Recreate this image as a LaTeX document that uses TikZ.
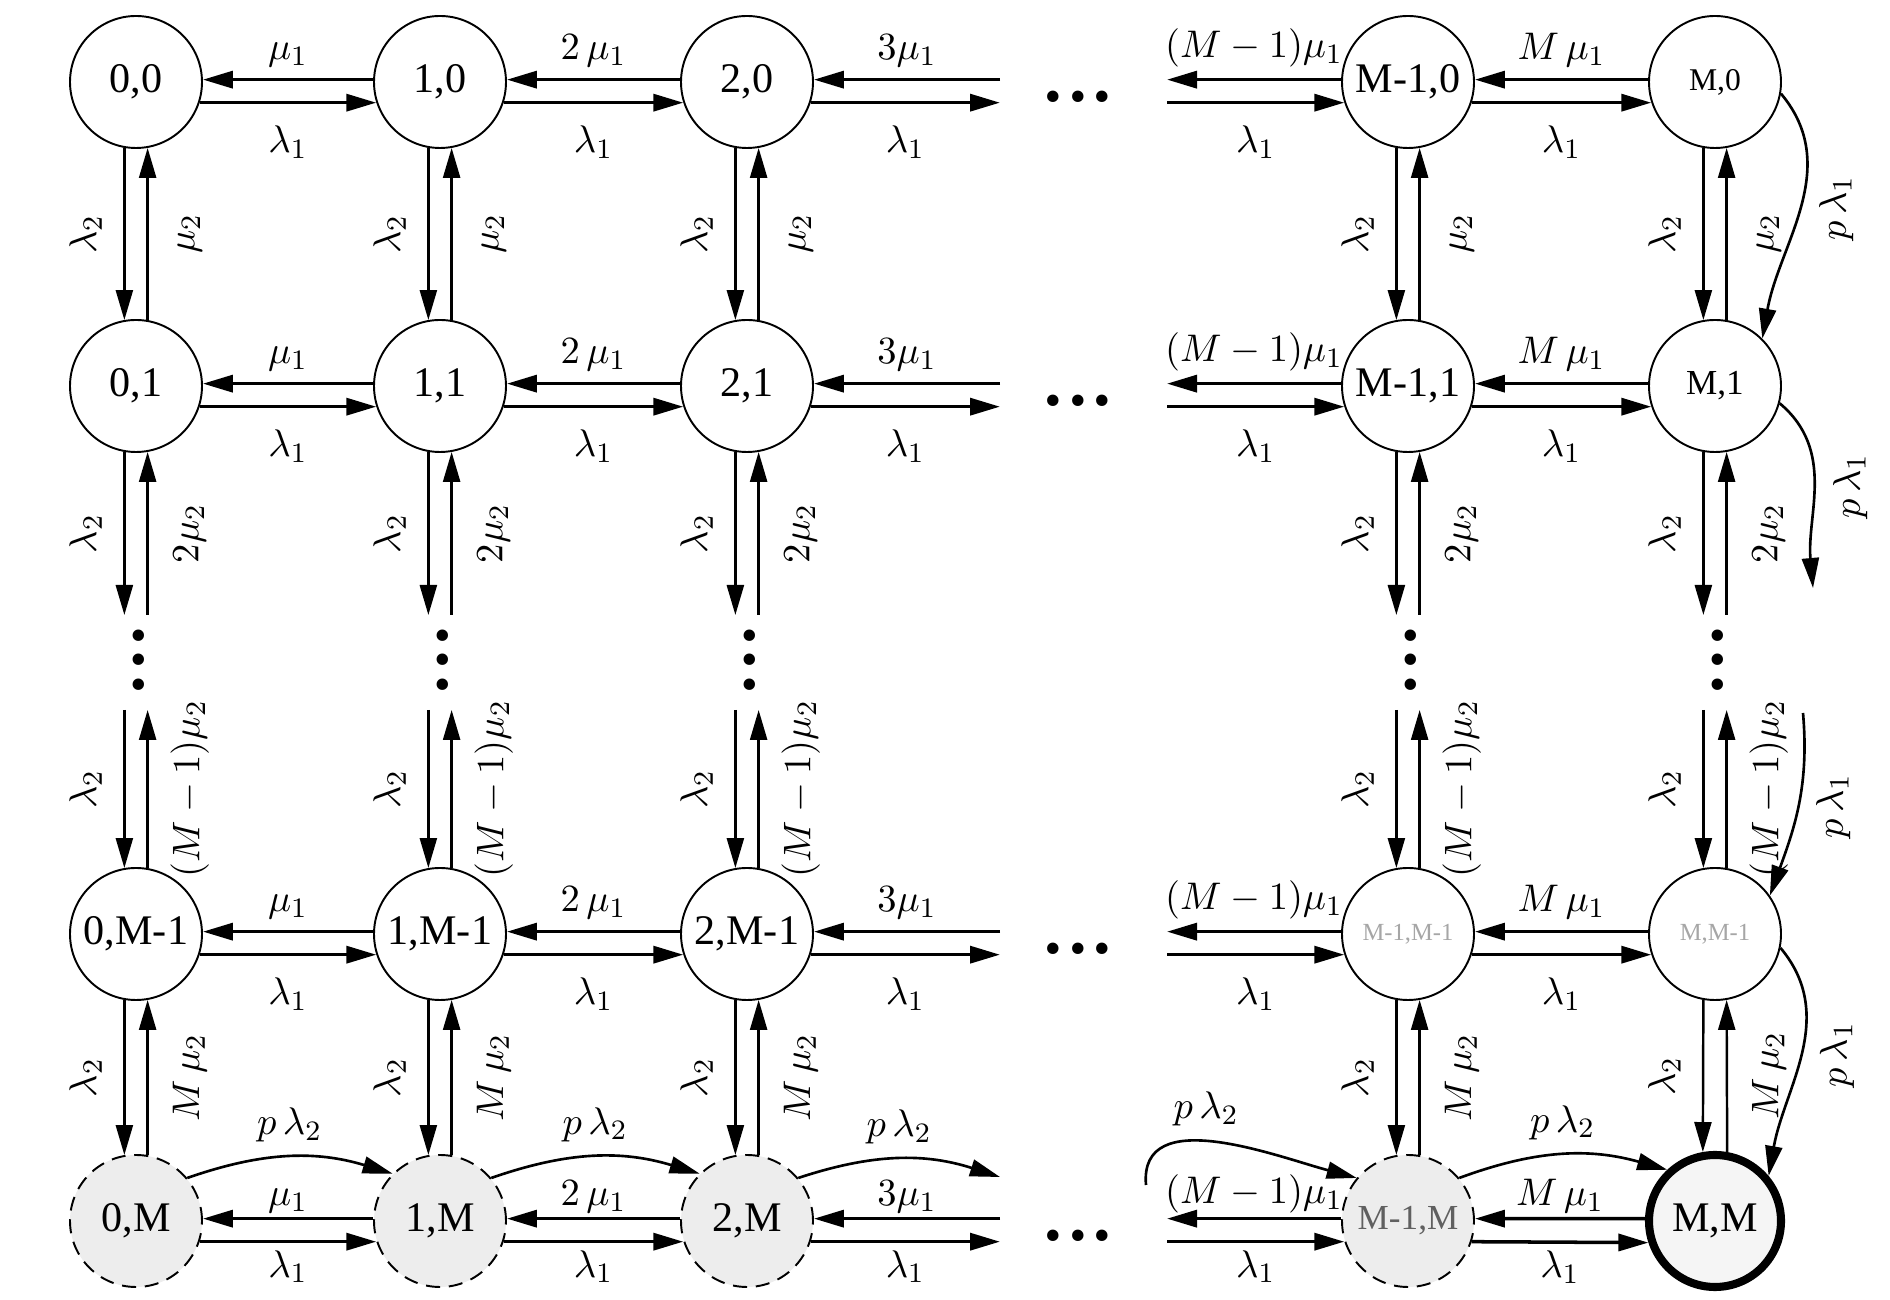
\documentclass[tikz,border=0pt]{standalone}
\usepackage{amsmath}
\usepackage{fontspec}
\setmainfont{Liberation Serif}
\usepackage{tikz}
\usetikzlibrary{positioning,arrows.meta,calc}

\tikzset{
  stnode/.style={circle, draw, line width=0.55pt, minimum size=13.2mm, inner sep=0pt, font=\fontsize{12}{14}\selectfont},
  lowstate/.style={stnode, fill=gray!14, dash pattern=on 4pt off 2.5pt},
  endstate/.style={stnode, fill=gray!8, line width=2.3pt},
  harr/.style={->, line width=1pt},
  varr/.style={->, line width=0.7pt},
  carr/.style={->, line width=0.75pt},
  lbl/.style={font=\fontsize{11}{13}\selectfont, inner sep=1pt},
  lamv/.style={lbl, xshift=-11pt, rotate=90},
  muv/.style={lbl, xshift=12pt, rotate=90},
  pv/.style={lbl, xshift=10pt, rotate=90},
  dotsbox/.style={inner sep=0pt, font=\fontsize{20}{20}\selectfont\bfseries},
}

\begin{document}
\begin{tikzpicture}[>={Triangle[length=3mm, width=1.7mm]}]
  \useasboundingbox (0,0) rectangle (18.9,-13);
  \node[stnode] (s00) at (1.36,-0.82)  {0,0};
  \node[stnode] (s10) at (4.40,-0.82)  {1,0};
  \node[stnode] (s20) at (7.47,-0.82)  {2,0};
  \node[stnode] (s30) at (14.08,-0.82) {M-1,0};
  \node[stnode, font=\fontsize{9}{11}\selectfont] (s40) at (17.15,-0.82) {M,0};
  \node[stnode] (s01) at (1.36,-3.86)  {0,1};
  \node[stnode] (s11) at (4.40,-3.86)  {1,1};
  \node[stnode] (s21) at (7.47,-3.86)  {2,1};
  \node[stnode] (s31) at (14.08,-3.86) {M-1,1};
  \node[stnode, font=\fontsize{10}{12}\selectfont] (s41) at (17.15,-3.86) {M,1};
  \node[stnode] (s02) at (1.36,-9.34)  {0,M-1};
  \node[stnode] (s12) at (4.40,-9.34)  {1,M-1};
  \node[stnode] (s22) at (7.47,-9.34)  {2,M-1};
  \node[stnode, text=gray!70, font=\fontsize{7}{9}\selectfont] (s32) at (14.08,-9.34) {M-1,M-1};
  \node[stnode, text=gray!70, font=\fontsize{7}{9}\selectfont] (s42) at (17.15,-9.34) {M,M-1};
  \node[lowstate] (s03) at (1.36,-12.21)  {0,M};
  \node[lowstate] (s13) at (4.40,-12.21)  {1,M};
  \node[lowstate] (s23) at (7.47,-12.21)  {2,M};
  \node[lowstate, text=gray!75!black, font=\fontsize{10}{12}\selectfont] (s33) at (14.08,-12.21) {M-1,M};
  \node[endstate] (s43) at (17.15,-12.21) {M,M};

  \coordinate (hl) at (10.00,0);
  \coordinate (hr) at (11.67,0);
  \coordinate (vt) at (0,-6.15);
  \coordinate (vb) at (0,-7.10);

  \foreach \r/\y/\ua/\lb in {0/-0.82/2pt/5pt, 1/-3.86/2pt/5pt, 2/-9.34/2pt/5pt, 3/-12.21/0pt/1pt}{
    \draw[harr] (s1\r.178) -- node[lbl, above=\ua]{$\mu_1$} (s0\r.2);
    \draw[harr] (s0\r.-18) -- node[lbl, below=\lb]{$\lambda_1$} (s1\r.198);
    \draw[harr] (s2\r.178) -- node[lbl, above=\ua]{$2\,\mu_1$} (s1\r.2);
    \draw[harr] (s1\r.-18) -- node[lbl, below=\lb]{$\lambda_1$} (s2\r.198);
    \draw[harr] (s2\r.2 -| hl) -- node[lbl, above=\ua]{$3\mu_1$} (s2\r.2);
    \draw[harr] (s2\r.-18) -- node[lbl, below=\lb]{$\lambda_1$} (s2\r.-18 -| hl);
    \node[dotsbox] (hd\r) at (10.78,\y-0.15) {.\kern2pt.\kern2pt.};
    \draw[harr] (s3\r.178) -- node[lbl, above=\ua]{$(M-1)\mu_1$} (s3\r.178 -| hr);
    \draw[harr] (s3\r.198 -| hr) -- node[lbl, below=\lb]{$\lambda_1$} (s3\r.198);
    \draw[harr] (s4\r.178) -- node[lbl, above=\ua]{$M\,\mu_1$} (s3\r.2);
    \draw[harr] (s3\r.-18) -- node[lbl, below=\lb]{$\lambda_1$} (s4\r.198);
  }

  \foreach \c/\x in {0/1.36, 1/4.40, 2/7.47, 3/14.08, 4/17.15}{
    \draw[varr] (s\c0.260) -- node[lamv]{$\lambda_2$} (s\c1.100);
    \draw[varr] (s\c1.80) -- node[muv]{$\mu_2$} (s\c0.280);
    \draw[varr] (s\c1.260) -- node[lamv]{$\lambda_2$} (s\c1.260 |- vt);
    \draw[varr] (s\c1.280 |- vt) -- node[muv]{$2\mu_2$} (s\c1.280);
    \node[dotsbox, rotate=90] (vd\c) at (\x+0.03,-6.60) {.\kern2pt.\kern2pt.};
    \draw[varr] (s\c2.100 |- vb) -- node[lamv]{$\lambda_2$} (s\c2.100);
    \draw[varr] (s\c2.80) -- node[muv]{$(M-1)\mu_2$} (s\c2.80 |- vb);
    \draw[varr] (s\c2.260) -- node[lamv]{$\lambda_2$} (s\c3.100);
    \draw[varr] (s\c3.80) -- node[muv]{$M\,\mu_2$} (s\c2.280);
  }

  \coordinate (pe1) at (18.13,-5.88);
  \coordinate (ps2) at (18.03,-7.13);
  \draw[carr] (s40.-10) to[out=-50, in=80] node[pv]{$p\,\lambda_1$} (s41.45);
  \draw[carr] (s41.-15) to[out=-40, in=95] node[pv]{$p\,\lambda_1$} (pe1);
  \draw[carr] (ps2) to[out=-85, in=70] node[pv]{$p\,\lambda_1$} (s42.35);
  \draw[carr] (s42.-12) to[out=-50, in=80] node[pv]{$p\,\lambda_1$} (s43.40);

  \coordinate (pe0) at (10.00,-11.77);
  \coordinate (ps0) at (11.46,-11.85);
  \draw[carr] (s03.40) to[bend left=18] node[lbl, above=3pt]{$p\,\lambda_2$} (s13.135);
  \draw[carr] (s13.40) to[bend left=18] node[lbl, above=3pt]{$p\,\lambda_2$} (s23.135);
  \draw[carr] (s23.40) to[bend left=18] node[lbl, above=3pt]{$p\,\lambda_2$} (pe0);
  \draw[carr] (ps0) to[out=95, in=165] node[lbl, above=3pt, pos=0.45]{$p\,\lambda_2$} (s33.140);
  \draw[carr] (s33.40) to[bend left=18] node[lbl, above=3pt]{$p\,\lambda_2$} (s43.133);
\end{tikzpicture}
\end{document}
